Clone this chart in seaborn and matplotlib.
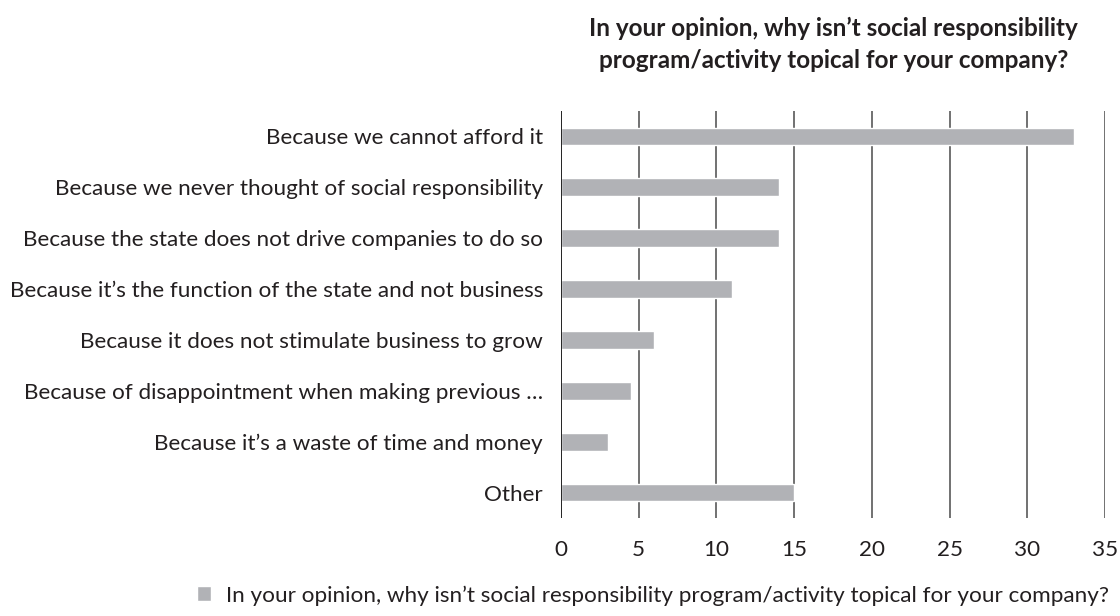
import matplotlib
matplotlib.use("Agg")
import matplotlib.pyplot as plt
import seaborn as sns
import pandas as pd

TITLE = "In your opinion, why isn\u2019t social responsibility\nprogram/activity topical for your company?"
SERIES = "In your opinion, why isn\u2019t social responsibility program/activity topical for your company?"

reasons = [
    "Because we cannot afford it",
    "Because we never thought of social responsibility",
    "Because the state does not drive companies to do so",
    "Because it\u2019s the function of the state and not business",
    "Because it does not stimulate business to grow",
    "Because of disappointment when making previous \u2026",
    "Because it\u2019s a waste of time and money",
    "Other",
]
counts = [33, 14, 14, 11, 6, 4.5, 3, 15]
x_ticks = [0, 5, 10, 15, 20, 25, 30, 35]

BAR = "#b1b2b6"
GRID = "#4a4a4a"
TEXT = "#231f20"
FS = 16.2

sns.set_style("white")
plt.rcParams["font.family"] = ["Lato", "DejaVu Sans"]

df = pd.DataFrame({"reason": reasons, "count": counts})

fig = plt.figure(figsize=(11.2, 6.16), dpi=100)
ax = fig.add_axes([0.5009, 0.1591, 0.4857, 0.6607])

sns.barplot(data=df, x="count", y="reason", color=BAR, width=0.35,
            saturation=1, ax=ax, label=SERIES, zorder=3)
h, l = ax.get_legend_handles_labels()
if ax.get_legend() is not None:
    ax.get_legend().remove()

ax.set_xlim(0, 35)
ax.set_ylim(7.5, -0.5)
ax.set_xticks(x_ticks)
ax.set_xticklabels([str(t) for t in x_ticks])
for t in x_ticks[1:]:
    ax.axvline(t, color=GRID, lw=1.1, zorder=1)
ax.axvline(0, color="#111111", lw=1.3, zorder=4)

for s in ax.spines.values():
    s.set_visible(False)
ax.tick_params(axis="both", length=0, labelsize=FS, colors=TEXT)
ax.tick_params(axis="y", pad=13)
ax.tick_params(axis="x", pad=16)
ax.set_xlabel("")
ax.set_ylabel("")

fig.text(0.744, 0.928, TITLE, ha="center", va="center", fontsize=17.5,
         fontweight="bold", color=TEXT, linespacing=1.45)

fig.legend(h[:1], l[:1], loc="center", bbox_to_anchor=(0.583, 0.033),
           frameon=False, fontsize=FS, handlelength=0.65, handleheight=0.65,
           handletextpad=0.65, labelcolor=TEXT)

fig.savefig("out.png", dpi=100)
